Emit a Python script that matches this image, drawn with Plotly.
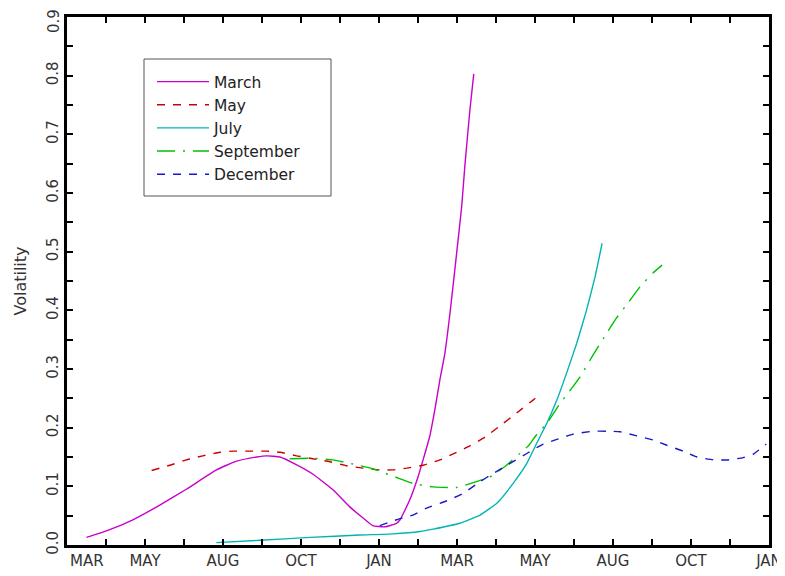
import plotly.graph_objects as go

# x positions are in tick-interval units (19 tick marks, 0..18)
tick_labels = ["MAR", "", "MAY", "", "AUG", "", "OCT", "", "JAN", "",
               "MAR", "", "MAY", "", "AUG", "", "OCT", "", "JAN"]

march_x = [0.50, 1.01, 1.69, 2.38, 3.06, 3.83, 4.35, 4.86, 5.12, 5.46, 5.79, 6.30,
           6.82, 7.25, 7.59, 7.84, 8.15, 8.45, 8.54, 8.79, 9.00, 9.13, 9.30, 9.43,
           9.56, 9.69, 9.82, 9.99, 10.12, 10.20, 10.33, 10.43]
march_y = [0.013, 0.024, 0.043, 0.068, 0.095, 0.128, 0.143, 0.150, 0.152, 0.150, 0.140,
           0.121, 0.094, 0.065, 0.046, 0.033, 0.031, 0.037, 0.043, 0.077, 0.116, 0.145,
           0.185, 0.230, 0.281, 0.327, 0.395, 0.497, 0.577, 0.645, 0.741, 0.803]

may_x = [2.17, 2.64, 3.06, 3.48, 3.92, 4.25, 4.69, 5.12, 5.46, 5.89, 6.30, 6.74, 7.17,
         7.59, 8.02, 8.36, 8.71, 9.13, 9.56, 9.89, 10.33, 10.72, 11.10, 11.53, 11.95, 12.04]
may_y = [0.127, 0.136, 0.145, 0.152, 0.158, 0.160, 0.160, 0.160, 0.158, 0.152, 0.147,
         0.142, 0.135, 0.131, 0.128, 0.128, 0.131, 0.136, 0.145, 0.155, 0.169, 0.184,
         0.203, 0.225, 0.247, 0.252]

july_x = [3.83, 4.94, 6.23, 7.51, 8.36, 9.05, 9.39, 10.07, 10.59, 11.02, 11.44, 11.79,
          12.04, 12.30, 12.56, 12.81, 13.07, 13.32, 13.54, 13.72]
july_y = [0.004, 0.008, 0.013, 0.017, 0.019, 0.023, 0.027, 0.037, 0.051, 0.071, 0.105,
          0.139, 0.173, 0.207, 0.247, 0.293, 0.344, 0.400, 0.457, 0.514]

sept_x = [5.71, 6.30, 6.82, 7.33, 7.84, 8.45, 8.87, 9.39, 9.99, 10.50, 10.84, 11.27,
          11.61, 11.83, 12.04, 12.30, 12.64, 12.85, 13.16, 13.49, 13.84, 14.09, 14.39,
          14.69, 15.03, 15.26]
sept_y = [0.147, 0.148, 0.145, 0.138, 0.130, 0.115, 0.105, 0.099, 0.098, 0.108, 0.116,
          0.136, 0.156, 0.169, 0.188, 0.207, 0.241, 0.259, 0.287, 0.324, 0.361, 0.387,
          0.413, 0.440, 0.464, 0.477]

dec_x = [8.02, 8.45, 8.87, 9.22, 9.73, 10.16, 10.59, 10.93, 11.36, 11.79, 12.21, 12.56,
         12.98, 13.49, 13.84, 14.18, 14.61, 15.03, 15.38, 15.80, 16.15, 16.57, 16.92,
         17.34, 17.60, 17.93]
dec_y = [0.033, 0.043, 0.051, 0.063, 0.075, 0.088, 0.108, 0.122, 0.139, 0.156, 0.172,
         0.180, 0.189, 0.194, 0.194, 0.193, 0.186, 0.179, 0.170, 0.160, 0.150, 0.145,
         0.145, 0.149, 0.155, 0.172]

y_ticks = [round(i * 0.05, 2) for i in range(19)]
y_labels = [f"{v:.1f}" if i % 2 == 0 else "" for i, v in enumerate(y_ticks)]

FONT = "DejaVu Sans"

series = [
    ("March", march_x, march_y, "#C800C8", "solid"),
    ("May", may_x, may_y, "#C80000", "8px,8px"),
    ("July", july_x, july_y, "#00B4B4", "solid"),
    ("September", sept_x, sept_y, "#00C000", "18px,8px,2px,8px"),
    ("December", dec_x, dec_y, "#1818C8", "8px,8px"),
]

fig = go.Figure()
for name, xs, ys, col, dash in series:
    fig.add_trace(go.Scatter(x=xs, y=ys, name=name, mode="lines",
                             line=dict(color=col, width=1.4, dash=dash,
                                       shape="spline", smoothing=0.4)))

axis_common = dict(showline=True, linecolor="black", linewidth=2.5, mirror="ticks",
                   ticks="inside", ticklen=6, tickwidth=1.5, tickcolor="black",
                   showgrid=False, zeroline=False, automargin=False,
                   tickfont=dict(family=FONT, size=15, color="#333333"))

# the page body adds an 8px offset; figure sized to fit the 785x576 window
W, H = 777, 568
L, R, T, B = 59, 16, 9, 31
PW, PH = W - L - R, H - T - B
OFF = 8


def px_x(p):
    return (p - OFF - L) / PW


def px_y(p):
    return (H - B - (p - OFF)) / PH


# top label (0.9) drawn as an annotation so it stays inside the page
y_ticktext = y_labels[:-1] + [""]

fig.update_layout(
    width=W, height=H,
    margin=dict(l=L, r=R, t=T, b=B),
    paper_bgcolor="white", plot_bgcolor="white",
    showlegend=True,
    legend=dict(x=px_x(152), y=px_y(65), xanchor="left", yanchor="top",
                borderwidth=0, bgcolor="rgba(0,0,0,0)",
                font=dict(family=FONT, size=15.5, color="#222222"),
                itemwidth=52, tracegroupgap=0),
    xaxis=dict(range=[0, 18], tickmode="array", tickvals=list(range(19)),
               ticktext=[""] + tick_labels[1:], **axis_common),
    yaxis=dict(range=[0, 0.9], tickmode="array", tickvals=y_ticks, ticktext=y_ticktext,
               tickangle=-90,
               title=dict(text="Volatility", font=dict(family=FONT, size=16, color="#333333"),
                          standoff=14),
               **axis_common),
    shapes=[dict(type="rect", xref="paper", yref="paper",
                 x0=px_x(144), x1=px_x(331), y0=px_y(196), y1=px_y(59),
                 line=dict(color="#555555", width=1), layer="below")],
)

fig.add_annotation(x=0, y=0, xref="x", yref="paper", text=tick_labels[0],
                   showarrow=False, xanchor="left", yanchor="top", xshift=1, yshift=-5,
                   font=dict(family=FONT, size=15, color="#333333"))

fig.add_annotation(x=px_x(54), y=y_ticks[-1], xref="paper", yref="y", text=y_labels[-1],
                   showarrow=False, textangle=-90, xanchor="center", yanchor="top",
                   yshift=9, borderpad=0,
                   font=dict(family=FONT, size=15, color="#333333"))

fig.write_html("out.html")
